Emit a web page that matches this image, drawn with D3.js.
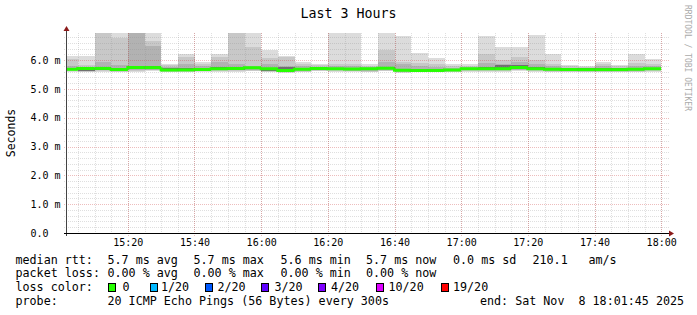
<!DOCTYPE html>
<html>
<head>
<meta charset="utf-8">
<script src="https://cdn.jsdelivr.net/npm/d3@7"></script>
<style>
body { margin: 0; background: #fff; }
text { font-family: 'DejaVu Sans Mono', monospace; white-space: pre; }
</style>
</head>
<body>
<div id="chart"></div>
<script>
// 5 minute slots (start time), 20 pings each
var slots = ['15:00','15:05','15:10','15:15','15:20','15:25','15:30','15:35','15:40','15:45','15:50','15:55',
             '16:00','16:05','16:10','16:15','16:20','16:25','16:30','16:35','16:40','16:45','16:50','16:55',
             '17:00','17:05','17:10','17:15','17:20','17:25','17:30','17:35','17:40','17:45','17:50','17:55'];
var median = [5.68,5.71,5.71,5.67,5.74,5.74,5.66,5.66,5.67,5.70,5.71,5.73,
              5.70,5.64,5.68,5.71,5.70,5.69,5.70,5.72,5.65,5.64,5.64,5.66,
              5.70,5.70,5.70,5.74,5.70,5.68,5.67,5.67,5.67,5.67,5.68,5.70];
var loss   = [0,0,0,0,0,0,0,0,0,0,0,0, 0,0,0,0,0,0,0,0,0,0,0,0, 0,0,0,0,0,0,0,0,0,0,0,0];
// smoke bands, outer to inner (ms)
var hi1 = [6.13,6.15,7.20,7.20,7.20,7.20,5.88,6.20,5.95,6.20,7.20,7.20,
           6.34,6.15,5.94,5.88,7.20,7.20,5.88,7.20,6.82,6.24,6.07,5.88,
           5.86,6.82,6.44,6.47,6.86,6.20,5.84,5.80,5.94,5.84,6.22,6.03];
var hi2 = [6.05,5.82,7.10,6.78,7.10,6.67,5.82,6.10,5.85,6.12,7.10,6.44,
           6.08,6.10,5.85,5.82,5.88,5.86,5.80,6.34,5.95,5.90,5.85,5.78,
           5.80,6.20,6.00,6.10,6.00,5.85,5.78,5.76,5.85,5.78,5.90,5.85];
var hi3 = [5.80,5.76,5.92,5.82,7.00,6.49,5.77,5.85,5.78,5.95,5.86,5.80,
           5.88,5.80,5.78,5.77,5.80,5.79,5.76,5.95,5.85,5.78,5.75,5.74,
           5.76,5.90,5.88,5.92,5.85,5.78,5.74,5.73,5.78,5.74,5.80,5.78];
var hi4 = [5.73,5.73,5.76,5.72,5.79,5.80,5.72,5.72,5.73,5.75,5.76,5.77,
           5.74,5.76,5.72,5.74,5.74,5.73,5.73,5.76,5.70,5.68,5.68,5.70,
           5.74,5.76,5.82,5.82,5.75,5.73,5.71,5.71,5.72,5.71,5.73,5.74];
var lo4 = [5.66,5.63,5.67,5.64,5.70,5.70,5.63,5.63,5.64,5.67,5.67,5.69,
           5.63,5.61,5.64,5.67,5.66,5.65,5.64,5.68,5.61,5.61,5.61,5.63,
           5.66,5.66,5.66,5.70,5.66,5.64,5.62,5.63,5.63,5.63,5.64,5.66];
var lo3 = [5.64,5.62,5.64,5.62,5.66,5.67,5.61,5.61,5.62,5.64,5.64,5.66,
           5.61,5.60,5.62,5.65,5.64,5.63,5.62,5.65,5.60,5.60,5.60,5.61,
           5.64,5.64,5.64,5.67,5.64,5.62,5.61,5.62,5.61,5.62,5.62,5.64];
var lo2 = [5.62,5.60,5.61,5.60,5.63,5.64,5.60,5.59,5.61,5.62,5.62,5.63,
           5.59,5.58,5.60,5.63,5.62,5.61,5.60,5.63,5.58,5.58,5.59,5.60,
           5.62,5.62,5.62,5.65,5.61,5.60,5.60,5.60,5.60,5.60,5.60,5.62];
var lo1 = [5.60,5.58,5.58,5.58,5.60,5.61,5.58,5.57,5.59,5.60,5.59,5.61,
           5.57,5.56,5.58,5.61,5.60,5.59,5.58,5.61,5.56,5.57,5.57,5.58,
           5.60,5.60,5.60,5.62,5.59,5.58,5.58,5.59,5.58,5.59,5.58,5.60];

var yTicks = [0, 1, 2, 3, 4, 5, 6];
var yLabels = ['0.0', '1.0 m', '2.0 m', '3.0 m', '4.0 m', '5.0 m', '6.0 m'];
var xTicks = ['15:20','15:40','16:00','16:20','16:40','17:00','17:20','17:40','18:00'];

var rowNames = ['median rtt:', 'packet loss:', 'loss color:', 'probe:'];
var rttStats = ['5.7 ms avg', '5.7 ms max', '5.6 ms min', '5.7 ms now', '0.0 ms sd', '210.1', 'am/s'];
var lossStats = ['0.00 % avg', '0.00 % max', '0.00 % min', '0.00 % now'];
var lossNames = ['0', '1/20', '2/20', '3/20', '4/20', '10/20', '19/20'];
var lossColors = ['#26ff00', '#00b8ff', '#0059ff', '#5e00ff', '#7e00ff', '#dd00ff', '#ff0000'];
var probeText = '20 ICMP Echo Pings (56 Bytes) every 300s';
var endText = 'end: Sat Nov  8 18:01:45 2025';

var width = 697, height = 315;
var pLeft = 67, pRight = 667, pTop = 33, pBot = 233;

var parse = d3.timeParse('%Y-%m-%d %H:%M:%S');
var day = '2025-11-08 ';
var tStart = parse(day + '15:01:45'), tEnd = parse(day + '18:01:45');
var slotT = slots.map(function(s) { return parse(day + s + ':00'); });

var x = d3.scaleTime().domain([tStart, tEnd]).range([pLeft, pRight]);
var y = d3.scaleLinear().domain([0, 6.94]).range([pBot, pTop]);

var svg = d3.select('#chart').append('svg')
    .attr('width', width).attr('height', height)
    .style('background', '#fff');

svg.append('defs').append('clipPath').attr('id', 'plot')
  .append('rect').attr('x', pLeft).attr('y', pTop).attr('width', pRight - pLeft).attr('height', pBot - pTop);

// smoke
var bands = [[lo1, hi1, '#dcdcdc'], [lo2, hi2, '#c8c8c8'], [lo3, hi3, '#b2b2b2'], [lo4, hi4, '#707070']];
var smoke = svg.append('g').attr('clip-path', 'url(#plot)');
bands.forEach(function(b) {
  smoke.selectAll(null)
    .data(slotT)
    .enter().append('rect')
    .attr('x', function(d) { return x(d); })
    .attr('width', function(d) { return x(d3.timeMinute.offset(d, 5)) - x(d); })
    .attr('y', function(d, i) { return y(b[1][i]); })
    .attr('height', function(d, i) { return y(b[0][i]) - y(b[1][i]); })
    .attr('shape-rendering', 'crispEdges')
    .style('fill', b[2]);
});

// grid
var grid = svg.append('g').attr('shape-rendering', 'crispEdges');
var minorCol = 'rgba(140,140,140,0.28)', majorCol = 'rgba(200,50,50,0.32)';
var minorY = d3.range(0.2, 6.94, 0.2).filter(function(v) { return Math.abs(v - Math.round(v)) > 0.01; });
grid.selectAll('.hmin').data(minorY).enter().append('line')
  .attr('x1', pLeft - 3).attr('x2', pRight + 2)
  .attr('y1', function(d) { return Math.round(y(d)) + 0.5; })
  .attr('y2', function(d) { return Math.round(y(d)) + 0.5; })
  .style('stroke', minorCol).style('stroke-dasharray', '1,1');
var minorX = d3.timeMinute.every(5).range(tStart, tEnd);
grid.selectAll('.vmin').data(minorX).enter().append('line')
  .attr('y1', pTop).attr('y2', pBot + 2)
  .attr('x1', function(d) { return Math.round(x(d)) + 0.5; })
  .attr('x2', function(d) { return Math.round(x(d)) + 0.5; })
  .style('stroke', minorCol).style('stroke-dasharray', '1,1');
grid.selectAll('.hmaj').data(yTicks.slice(1)).enter().append('line')
  .attr('x1', pLeft - 3).attr('x2', pRight + 2)
  .attr('y1', function(d) { return Math.round(y(d)) + 0.5; })
  .attr('y2', function(d) { return Math.round(y(d)) + 0.5; })
  .style('stroke', majorCol).style('stroke-dasharray', '1,1');
var xTickT = xTicks.map(function(s) { return parse(day + s + ':00'); });
grid.selectAll('.vmaj').data(xTickT).enter().append('line')
  .attr('y1', pTop).attr('y2', pBot + 3)
  .attr('x1', function(d) { return Math.round(x(d)) + 0.5; })
  .attr('x2', function(d) { return Math.round(x(d)) + 0.5; })
  .style('stroke', majorCol).style('stroke-dasharray', '1,1');

// median line, coloured by loss
var med = svg.append('g').attr('clip-path', 'url(#plot)');
slotT.forEach(function(d, i) {
  var x0 = x(d), x1 = x(d3.timeMinute.offset(d, 5));
  var prev = i > 0 ? y(median[i - 1]) : y(median[i]);
  med.append('path')
    .attr('d', 'M' + x0 + ',' + prev + 'V' + y(median[i]) + 'H' + x1)
    .style('fill', 'none')
    .style('stroke', lossColors[loss[i]])
    .style('stroke-width', 3);
});

// axes
svg.append('line').attr('x1', pLeft - 0.5).attr('x2', pLeft - 0.5).attr('y1', pBot + 3).attr('y2', pTop - 3)
  .style('stroke', '#444').attr('shape-rendering', 'crispEdges');
svg.append('line').attr('x1', pLeft - 3).attr('x2', pRight + 3).attr('y1', pBot + 0.5).attr('y2', pBot + 0.5)
  .style('stroke', '#000').attr('shape-rendering', 'crispEdges');
svg.append('path').attr('d', 'M' + (pLeft - 3.5) + ',' + (pTop - 2) + 'L' + (pLeft - 0.5) + ',' + (pTop - 7) + 'L' + (pLeft + 2.5) + ',' + (pTop - 2) + 'Z')
  .style('fill', '#8b1a1a');
svg.append('path').attr('d', 'M' + (pRight + 2) + ',' + (pBot - 2.5) + 'L' + (pRight + 7) + ',' + (pBot + 0.5) + 'L' + (pRight + 2) + ',' + (pBot + 3.5) + 'Z')
  .style('fill', '#8b1a1a');

svg.selectAll('.ylab').data(yTicks).enter().append('text')
  .attr('x', 30.5).attr('y', function(d) { return y(d) + 3.6; })
  .style('font-size', '10px').style('fill', '#000')
  .text(function(d, i) { return yLabels[i]; });

svg.selectAll('.xlab').data(xTickT).enter().append('text')
  .attr('x', function(d) { return x(d) + 0.5; }).attr('y', 246)
  .attr('text-anchor', 'middle')
  .style('font-size', '10px').style('fill', '#000')
  .text(function(d, i) { return xTicks[i]; });

svg.append('text')
  .attr('transform', 'translate(14.5,' + ((pTop + pBot) / 2) + ') rotate(-90)')
  .attr('text-anchor', 'middle')
  .style('font-size', '11.5px')
  .text('Seconds');

svg.append('text')
  .attr('x', 348.5).attr('y', 18.3).attr('text-anchor', 'middle')
  .style('font-size', '13.3px')
  .text('Last 3 Hours');

svg.append('text')
  .attr('transform', 'translate(685,5) rotate(90)')
  .style('font-size', '8px').style('fill', '#aaa')
  .text('RRDTOOL / TOBI OETIKER');

// legend
var rowY = [263.5, 277.2, 291, 304.7];
var legFont = '11.7px';
rowNames.forEach(function(n, i) {
  svg.append('text').attr('x', 15.5).attr('y', rowY[i]).style('font-size', legFont).text(n);
});
var rttX = [107.5, 193.5, 280.5, 366, 453, 532.5, 588.5];
rttStats.forEach(function(s, i) {
  svg.append('text').attr('x', rttX[i]).attr('y', rowY[0]).style('font-size', legFont).text(s);
});
lossStats.forEach(function(s, i) {
  svg.append('text').attr('x', rttX[i]).attr('y', rowY[1]).style('font-size', legFont).text(s);
});
var boxX = [108, 150, 205, 261, 318, 376, 441];
var nameX = [122.5, 161, 217.5, 274.5, 331, 388.5, 453];
lossNames.forEach(function(s, i) {
  svg.append('rect').attr('x', boxX[i] + 0.5).attr('y', 283.5).attr('width', 7).attr('height', 8)
    .style('fill', lossColors[i]).style('stroke', '#000').style('stroke-width', 1);
  svg.append('text').attr('x', nameX[i]).attr('y', rowY[2]).style('font-size', legFont).text(s);
});
svg.append('text').attr('x', 107.5).attr('y', rowY[3]).style('font-size', legFont).text(probeText);
svg.append('text').attr('x', 480).attr('y', rowY[3]).style('font-size', legFont).text(endText);
</script>
</body>
</html>
